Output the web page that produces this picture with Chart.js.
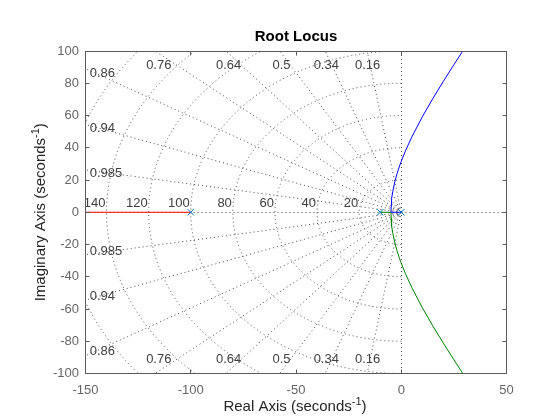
<!DOCTYPE html>
<html><head><meta charset="utf-8">
<script src="https://cdn.jsdelivr.net/npm/chart.js@4"></script>
<style>html,body{margin:0;padding:0;background:#fff;}canvas{display:block;}</style>
</head><body>
<canvas id="c" width="560" height="420"></canvas>
<script>
// ---- data ----
const poleRe = [-100, -10, 0];
const poleIm = [0, 0, 0];
const redRe = [-100, -160];
const redIm = [0, 0];
const blueRe = [0, -4.87, -4.8, -4.7, -4.5, -4, -3, -2, -1, 0, 2, 5, 10, 15, 20, 25, 29, 32];
const blueIm = [0, 0, 3.6, 5.7, 8.4, 13.0, 19.2, 23.9, 28.0, 31.6, 38.1, 46.6, 59.2, 70.5, 81.2, 91.5, 99.5, 105.4];
const greenRe = [-10, -4.87, -4.8, -4.7, -4.5, -4, -3, -2, -1, 0, 2, 5, 10, 15, 20, 25, 29, 32];
const greenIm = [0, 0, -3.6, -5.7, -8.4, -13.0, -19.2, -23.9, -28.0, -31.6, -38.1, -46.6, -59.2, -70.5, -81.2, -91.5, -99.5, -105.4];
const xTickValues = [-150, -100, -50, 0, 50];
const yTickValues = [-100, -80, -60, -40, -20, 0, 20, 40, 60, 80, 100];
const dampingValues = [0.16, 0.34, 0.5, 0.64, 0.76, 0.86, 0.94, 0.985];
const naturalFreqs = [20, 40, 60, 80, 100, 120, 140, 160, 180];
const titleText = 'Root Locus';
const xLabel = ['Real Axis (seconds', '-1', ')'];
const yLabel = ['Imaginary Axis (seconds', '-1', ')'];

const FONT = "'Liberation Sans', Arial, Helvetica, sans-serif";
const pts = (re, im) => re.map((v, i) => ({x: v, y: im[i]}));

const sgrid = {
  id: 'sgrid',
  beforeDatasetsDraw(chart) {
    const {ctx, chartArea: a, scales: {x, y}} = chart;
    const px = v => x.getPixelForValue(v), py = v => y.getPixelForValue(v);
    const ox = px(0), oy = py(0);
    ctx.save();
    ctx.beginPath(); ctx.rect(a.left, a.top, a.right - a.left, a.bottom - a.top); ctx.clip();
    ctx.strokeStyle = '#4a4a4a'; ctx.lineWidth = 1; ctx.setLineDash([1, 3]);
    const hy = Math.floor(oy) + 0.5, vx = Math.floor(ox) + 0.5;
    ctx.beginPath(); ctx.moveTo(a.left, hy); ctx.lineTo(a.right, hy); ctx.stroke();
    ctx.beginPath(); ctx.moveTo(vx, a.top); ctx.lineTo(vx, a.bottom); ctx.stroke();
    const R = 400;
    dampingValues.forEach(z => {
      const s = Math.sqrt(1 - z * z);
      [1, -1].forEach(sg => {
        ctx.beginPath(); ctx.moveTo(ox, oy); ctx.lineTo(px(-R * z), py(sg * R * s)); ctx.stroke();
      });
    });
    naturalFreqs.forEach(w => {
      const rx = ox - px(-w), ry = py(-w) - oy;
      ctx.beginPath(); ctx.ellipse(ox, oy, rx, ry, 0, Math.PI / 2, Math.PI * 1.5); ctx.stroke();
    });
    ctx.setLineDash([]);
    ctx.fillStyle = '#404040'; ctx.font = '13px ' + FONT;
    dampingValues.forEach(z => {
      const s = Math.sqrt(1 - z * z), t = s / z, lab = String(z);
      const yA = y.max - 1.5, xA = -yA / t;
      if (xA > x.min + 1.5) {
        ctx.textAlign = 'center'; ctx.textBaseline = 'middle';
        ctx.fillText(lab, px(xA), py(y.max) + 14);
        ctx.fillText(lab, px(xA), py(y.min) - 14);
      } else {
        const xB = x.min + 1.5, yB = -xB * t;
        ctx.textAlign = 'left'; ctx.textBaseline = 'middle';
        ctx.fillText(lab, px(xB) + 1, py(yB) + 3);
        ctx.fillText(lab, px(xB) + 1, py(-yB) - 3);
      }
    });
    ctx.textAlign = 'right'; ctx.textBaseline = 'middle';
    naturalFreqs.forEach(w => { if (-w >= x.min) ctx.fillText(String(w), px(-w) - 1, oy - 8.5); });
    ctx.restore();
  }
};

function drawSup(ctx, parts, cx, baseY, size) {
  const main = size + 'px ' + FONT, sup = Math.round(size * 0.7) + 'px ' + FONT;
  ctx.font = main; const w1 = ctx.measureText(parts[0]).width, w3 = ctx.measureText(parts[2]).width;
  ctx.font = sup; const w2 = ctx.measureText(parts[1]).width;
  let x0 = cx - (w1 + w2 + w3) / 2;
  ctx.textAlign = 'left'; ctx.textBaseline = 'alphabetic';
  ctx.font = main; ctx.fillText(parts[0], x0, baseY); x0 += w1;
  ctx.font = sup; ctx.fillText(parts[1], x0, baseY - size * 0.4); x0 += w2;
  ctx.font = main; ctx.fillText(parts[2], x0, baseY);
}

const frame = {
  id: 'frame',
  afterDatasetsDraw(chart) {
    const {ctx, chartArea: a, scales: {x, y}} = chart;
    const L = Math.floor(a.left) + 0.5, Rr = Math.floor(a.right) + 0.5, T = Math.floor(a.top) + 0.5, B = Math.floor(a.bottom) + 0.5;
    ctx.save();
    ctx.strokeStyle = '#5a5a5a'; ctx.lineWidth = 1;
    ctx.strokeRect(L, T, Rr - L, B - T);
    const tl = 4;
    ctx.beginPath();
    xTickValues.forEach(v => { const X = Math.floor(x.getPixelForValue(v)) + 0.5; ctx.moveTo(X, B); ctx.lineTo(X, B - tl); ctx.moveTo(X, T); ctx.lineTo(X, T + tl); });
    yTickValues.forEach(v => { const Y = Math.floor(y.getPixelForValue(v)) + 0.5; ctx.moveTo(L, Y); ctx.lineTo(L + tl, Y); ctx.moveTo(Rr, Y); ctx.lineTo(Rr - tl, Y); });
    ctx.stroke();
    ctx.fillStyle = '#000'; ctx.font = 'bold 15px ' + FONT; ctx.textAlign = 'center'; ctx.textBaseline = 'middle';
    ctx.fillText(titleText, (a.left + a.right) / 2, 36.5);
    ctx.fillStyle = '#262626';
    drawSup(ctx, xLabel, (a.left + a.right) / 2 - 1, 411, 15);
    ctx.translate(45, (a.top + a.bottom) / 2);
    ctx.rotate(-Math.PI / 2);
    drawSup(ctx, yLabel, 0, 0, 15);
    ctx.restore();
  }
};

new Chart(document.getElementById('c'), {
  type: 'scatter',
  data: {
    datasets: [
      {label: 'poles', data: pts(poleRe, poleIm), pointStyle: 'crossRot', pointRadius: 4.5, borderColor: '#0072BD', pointBorderColor: '#0072BD', pointBorderWidth: 1, showLine: false},
      {label: 'branch1', data: pts(redRe, redIm), borderColor: '#ff0000', borderWidth: 1, showLine: true, pointRadius: 0},
      {label: 'branch2', data: pts(blueRe, blueIm), borderColor: '#0000ff', borderWidth: 1, showLine: true, pointRadius: 0},
      {label: 'branch3', data: pts(greenRe, greenIm), borderColor: '#008000', borderWidth: 1, showLine: true, pointRadius: 0}
    ]
  },
  options: {
    responsive: false, animation: false, devicePixelRatio: 1, events: [],
    layout: {padding: {top: 51, right: 53.5, left: 0, bottom: 0}},
    plugins: {legend: {display: false}, tooltip: {enabled: false}, title: {display: false}},
    scales: {
      x: {type: 'linear', min: -150, max: 50,
        afterBuildTicks: s => { s.ticks = xTickValues.map(v => ({value: v})); },
        afterFit: s => { s.height = 46.5; },
        grid: {display: false, drawTicks: false}, border: {display: false},
        ticks: {padding: 9.5, font: {size: 13, family: FONT}, color: '#666666'}},
      y: {type: 'linear', min: -100, max: 100,
        afterBuildTicks: s => { s.ticks = yTickValues.map(v => ({value: v})); },
        afterFit: s => { s.width = 85.5; },
        grid: {display: false, drawTicks: false}, border: {display: false},
        ticks: {padding: 6.5, font: {size: 13, family: FONT}, color: '#666666'}}
    }
  },
  plugins: [sgrid, frame]
});
</script>
</body></html>
